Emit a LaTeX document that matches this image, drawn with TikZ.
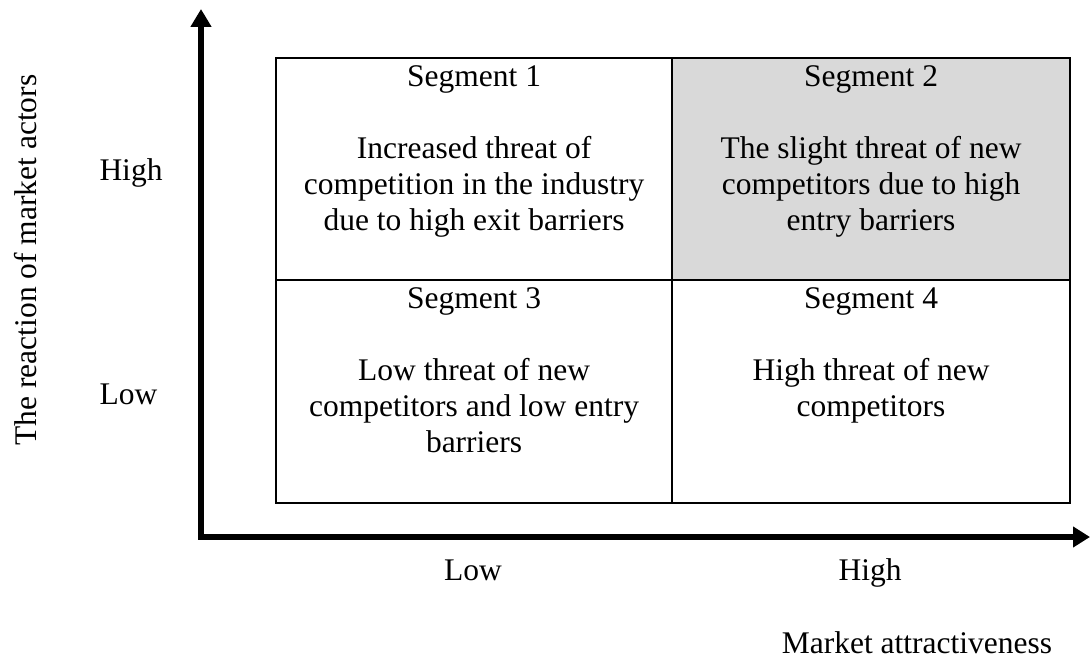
\documentclass[tikz,border=0pt]{standalone}
\usepackage{fontspec}
\setmainfont{Liberation Serif}
\usetikzlibrary{arrows.meta}
\definecolor{cellgray}{HTML}{D9D9D9}
\tikzset{
  lbl/.style={font=\fontsize{31.5}{36}\selectfont, inner sep=0pt, anchor=base},
  cellbox/.style={draw=black, line width=2.2pt, inner sep=0pt, anchor=north west},
  celltext/.style={font=\fontsize{31.5}{36}\selectfont, inner sep=0pt, align=center, anchor=north},
  axisline/.style={line width=6pt, {Triangle[length=18pt,width=20pt]}-{Triangle[length=17pt,width=20pt]}}
}
\begin{document}
\begin{tikzpicture}[x=1pt,y=-1pt]
\useasboundingbox (0,0) rectangle (1090,658);
% cells
\node[cellbox, minimum width=396pt, minimum height=222pt] (c1) at (275,57) {};
\node[cellbox, fill=cellgray, minimum width=398pt, minimum height=222pt] (c2) at (671,57) {};
\node[cellbox, minimum width=396pt, minimum height=223pt] (c3) at (275,279) {};
\node[cellbox, minimum width=398pt, minimum height=223pt] (c4) at (671,279) {};
% cell texts
\node[celltext] (t1) at ([yshift=-4pt]c1.north) {\strut Segment 1\\[36pt]Increased threat of\\competition in the industry\\due to high exit barriers};
\node[celltext] (t2) at ([yshift=-4pt]c2.north) {\strut Segment 2\\[36pt]The slight threat of new\\competitors due to high\\entry barriers};
\node[celltext] (t3) at ([yshift=-4pt]c3.north) {\strut Segment 3\\[36pt]Low threat of new\\competitors and low entry\\barriers};
\node[celltext] (t4) at ([yshift=-4pt]c4.north) {\strut Segment 4\\[36pt]High threat of new\\competitors};
% axes
\coordinate (O) at (201,537);
\coordinate (ytip) at (201,9);
\coordinate (xtip) at (1090,537);
\draw[axisline] (ytip) -- (O) -- (xtip);
% axis labels
\node[lbl] (yhigh) at (131,181) {High};
\node[lbl] (ylow) at (128.5,404) {Low};
\node[lbl] (xlow) at (473,580) {Low};
\node[lbl] (xhigh) at (870,580) {High};
\node[lbl] (xtitle) at (917,653) {Market attractiveness};
\node[lbl, rotate=90] (ytitle) at (36,260) {The reaction of market actors};
\end{tikzpicture}
\end{document}
